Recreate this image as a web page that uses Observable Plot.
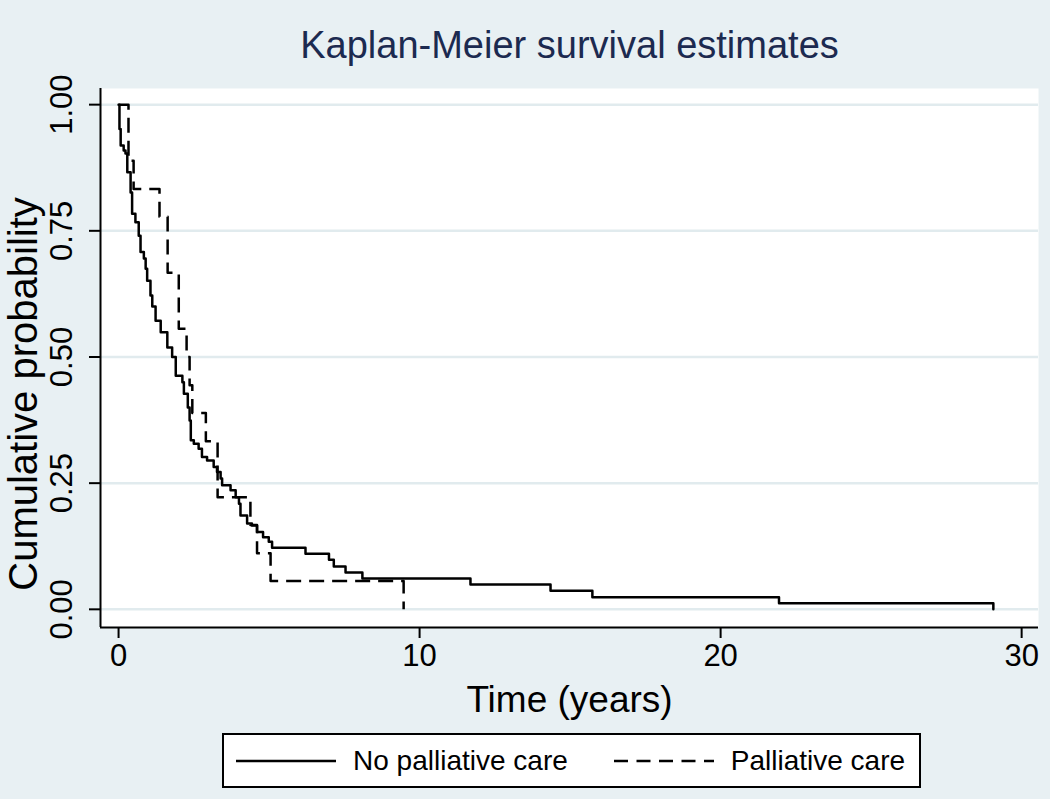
<!DOCTYPE html>
<html>
<head>
<meta charset="utf-8">
<script src="https://cdn.jsdelivr.net/npm/d3@7"></script>
<script src="https://cdn.jsdelivr.net/npm/@observablehq/plot@0.6"></script>
<style>
  html, body { margin: 0; padding: 0; background: #e8f0f3; }
  #wrap { position: relative; width: 1050px; height: 799px; background: #e8f0f3; font-family: "Liberation Sans", Arial, Helvetica, sans-serif; }
  #chart { position: absolute; left: 0; top: 0; }
  #legend { position: absolute; left: 222px; top: 733px; width: 695px; height: 51px; background: #fff; border: 2px solid #000; display: flex; align-items: center; font-size: 28px; color: #000; }
  #legend svg { display: block; }
  #legend span { white-space: nowrap; }
</style>
</head>
<body>
<div id="wrap">
  <div id="chart"></div>
  <div id="legend"></div>
</div>
<script>
// ---- data ----
const titleText = "Kaplan-Meier survival estimates";
const xLabel = "Time (years)";
const yLabel = "Cumulative probability";
const seriesNames = ["No palliative care", "Palliative care"];

const xTicks = [0, 10, 20, 30];
const yTicks = [0, 0.25, 0.5, 0.75, 1];
const xDomain = [-0.6, 30.56];
const yDomain = [-0.036, 1.032];

// No palliative care (solid): event times and survival after each step
const noPcTime = [0, 0.03, 0.07, 0.17, 0.23, 0.29, 0.40, 0.45, 0.56, 0.67, 0.73, 0.84, 0.90, 0.95, 1.06, 1.12, 1.23, 1.40, 1.62, 1.78, 1.90, 2.12, 2.17, 2.30, 2.36, 2.40, 2.50, 2.66, 2.77, 2.94, 3.16, 3.27, 3.39, 3.44, 3.72, 3.89, 4.00, 4.05, 4.27, 4.43, 4.60, 4.80, 4.99, 5.10, 6.21, 6.99, 7.15, 7.54, 8.10, 11.69, 14.35, 15.74, 21.94, 29.06];
const noPcSurv = [1.0, 0.952, 0.919, 0.909, 0.903, 0.866, 0.826, 0.784, 0.767, 0.740, 0.708, 0.695, 0.675, 0.651, 0.622, 0.600, 0.572, 0.549, 0.519, 0.500, 0.463, 0.450, 0.427, 0.400, 0.374, 0.335, 0.328, 0.318, 0.302, 0.295, 0.282, 0.272, 0.259, 0.246, 0.236, 0.222, 0.209, 0.186, 0.170, 0.166, 0.153, 0.143, 0.134, 0.122, 0.110, 0.098, 0.085, 0.073, 0.061, 0.049, 0.037, 0.024, 0.012, 0];

// Palliative care (dashed)
const pcTime = [0, 0.33, 0.50, 1.36, 1.63, 2.00, 2.26, 2.36, 2.45, 2.90, 3.29, 4.38, 4.60, 5.05, 9.47];
const pcSurv = [1.0, 0.889, 0.833, 0.778, 0.667, 0.556, 0.500, 0.444, 0.389, 0.333, 0.222, 0.167, 0.111, 0.056, 0];

// ---- build ----
const noPc = noPcTime.map((t, i) => ({t, s: noPcSurv[i]}));
const pc = pcTime.map((t, i) => ({t, s: pcSurv[i]}));
const fmt = d3.format(".2f");
const font = "'Liberation Sans', Arial, Helvetica, sans-serif";
const dash = "15,8";

const chart = Plot.plot({
  width: 1050,
  height: 799,
  marginTop: 88,
  marginLeft: 100,
  marginRight: 12,
  marginBottom: 172,
  style: {background: "transparent", fontFamily: font, color: "#000"},
  x: {domain: xDomain},
  y: {domain: yDomain},
  marks: [
    Plot.frame({fill: "#fff", stroke: null}),
    Plot.gridY(yTicks, {stroke: "#e1ebee", strokeOpacity: 1, strokeWidth: 2.5}),
    Plot.ruleX([xDomain[0]], {stroke: "#000", strokeWidth: 2}),
    Plot.ruleY([yDomain[0]], {stroke: "#000", strokeWidth: 2}),
    Plot.axisX({ticks: xTicks, tickSize: 11, tickPadding: 5, strokeWidth: 2, fontSize: 31, label: null}),
    Plot.axisY({ticks: yTicks, tickSize: 11, strokeWidth: 2, tickFormat: () => "", label: null}),
    Plot.text(yTicks, {y: d => d, text: d => fmt(d), frameAnchor: "left", dx: -38, rotate: -90, textAnchor: "middle", lineAnchor: "middle", fontSize: 31, fill: "#000"}),
    Plot.text([yLabel], {text: d => d, frameAnchor: "left", dx: -76, dy: 36, rotate: -90, textAnchor: "middle", lineAnchor: "middle", fontSize: 40, fill: "#000"}),
    Plot.text([xLabel], {text: d => d, frameAnchor: "bottom", dy: 73, textAnchor: "middle", lineAnchor: "middle", fontSize: 37, fill: "#000"}),
    Plot.text([titleText], {text: d => d, frameAnchor: "top", dy: -43, textAnchor: "middle", lineAnchor: "middle", fontSize: 38, fill: "#1c2a50"}),
    Plot.line(pc, {x: "t", y: "s", curve: "step-after", stroke: "#000", strokeWidth: 2.5, strokeDasharray: dash, strokeLinecap: "butt"}),
    Plot.line(noPc, {x: "t", y: "s", curve: "step-after", stroke: "#000", strokeWidth: 2.5})
  ]
});
document.getElementById("chart").appendChild(chart);

// legend
const legend = document.getElementById("legend");
function sample(dashed, marginLeft) {
  const ns = "http://www.w3.org/2000/svg";
  const svg = document.createElementNS(ns, "svg");
  svg.setAttribute("width", 100);
  svg.setAttribute("height", 10);
  svg.style.marginLeft = marginLeft + "px";
  svg.style.marginRight = "17px";
  const ln = document.createElementNS(ns, "line");
  ln.setAttribute("x1", 0); ln.setAttribute("x2", 100);
  ln.setAttribute("y1", 5); ln.setAttribute("y2", 5);
  ln.setAttribute("stroke", "#000");
  ln.setAttribute("stroke-width", 2.5);
  if (dashed) ln.setAttribute("stroke-dasharray", "14,8.5");
  svg.appendChild(ln);
  return svg;
}
legend.appendChild(sample(false, 12));
const s1 = document.createElement("span"); s1.textContent = seriesNames[0]; legend.appendChild(s1);
legend.appendChild(sample(true, 46));
const s2 = document.createElement("span"); s2.textContent = seriesNames[1]; legend.appendChild(s2);
</script>
</body>
</html>
